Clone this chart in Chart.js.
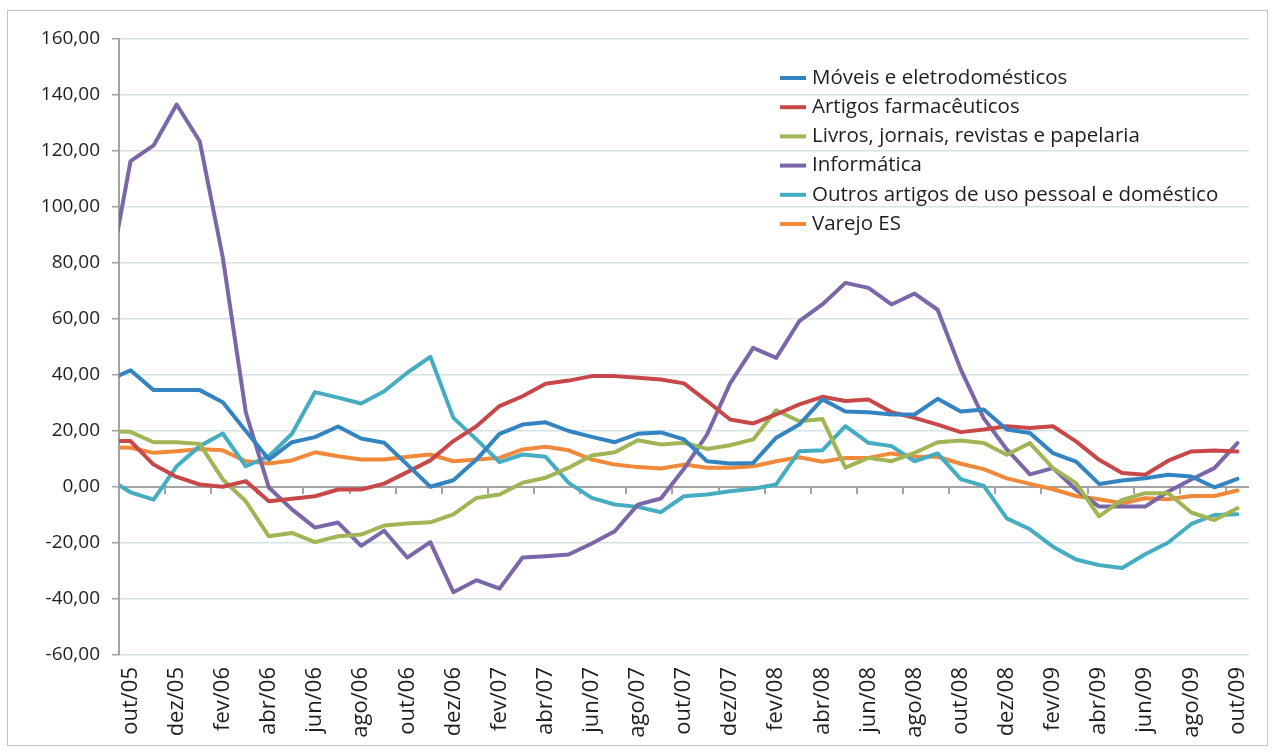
<!DOCTYPE html>
<html>
<head>
<meta charset="utf-8">
<script src="https://cdn.jsdelivr.net/npm/chart.js@4"></script>
<style>
  html, body { margin: 0; padding: 0; background: #fff; }
  #wrap { width: 1276px; height: 753px; position: relative; }
</style>
</head>
<body>
<div id="wrap"><canvas id="chart"></canvas></div>
<script>
// months; "set/05" sits just left of the axis so the line enters clipped, like the original
const months = ['set/05','out/05','nov/05','dez/05','jan/06','fev/06','mar/06','abr/06','mai/06','jun/06','jul/06','ago/06',
  'set/06','out/06','nov/06','dez/06','jan/07','fev/07','mar/07','abr/07','mai/07','jun/07','jul/07','ago/07',
  'set/07','out/07','nov/07','dez/07','jan/08','fev/08','mar/08','abr/08','mai/08','jun/08','jul/08','ago/08',
  'set/08','out/08','nov/08','dez/08','jan/09','fev/09','mar/09','abr/09','mai/09','jun/09','jul/09','ago/09',
  'set/09','out/09'];

const moveis = [37.9, 41.7, 34.6, 34.6, 34.6, 30.3, 20, 9.8, 16, 17.8,
  21.6, 17.3, 15.8, 8, 0.1, 2.4, 9.8, 19, 22.3, 23.1,
  20, 17.9, 16, 19, 19.5, 17, 9.2, 8.4, 8.6, 17.6,
  22.3, 31.3, 27, 26.7, 25.9, 25.9, 31.5, 27, 27.7, 20.5,
  19.3, 12.1, 9.1, 1.1, 2.3, 3.1, 4.4, 3.75, -0.1, 2.9];
const farma = [16.4, 16.4, 8, 3.6, 0.9, 0.1, 2.1, -5.1, -4.2, -3.3,
  -0.9, -0.9, 1.2, 5.3, 9.5, 16.4, 21.7, 28.9, 32.4, 36.9,
  38, 39.6, 39.6, 39, 38.4, 37, 30.7, 24.1, 22.7, 25.9,
  29.5, 32.2, 30.7, 31.25, 26.7, 24.7, 22.3, 19.6, 20.5, 21.7,
  21.1, 21.7, 16.3, 9.7, 5, 4.4, 9.4, 12.7, 13, 12.7];
const livros = [20, 19.7, 16, 16, 15.4, 2.7, -5.1, -17.6, -16.4, -19.7,
  -17.6, -17, -13.75, -13, -12.6, -9.8, -3.9, -2.7, 1.5, 3.3,
  6.9, 11.25, 12.4, 16.7, 15.2, 15.8, 13.6, 14.9, 17, 27.4,
  23.5, 24.3, 6.9, 10.4, 9.2, 12.2, 16, 16.6, 15.7, 11.5,
  15.7, 6.75, 1.4, -10.5, -4.6, -2.2, -2.2, -9.1, -11.8, -7.6];
const informatica = [71.7, 116.4, 122, 136.6, 123.5, 82, 26.6, -0.2, -8, -14.5,
  -12.7, -21, -15.6, -25.2, -19.7, -37.6, -33.3, -36.3, -25.2, -24.7,
  -24.1, -20.2, -15.8, -6.3, -4.1, 6.5, 18.75, 37, 49.7, 46.1,
  59.2, 65.2, 72.9, 71.1, 65.2, 69.1, 63.3, 42, 24.5, 13.4,
  4.5, 6.75, -0.9, -7, -7, -7, -1.6, 2.7, 6.75, 15.7];
const outros = [3.2, -1.9, -4.5, 7.4, 14.6, 19.1, 7.4, 11, 19, 33.9,
  31.9, 29.8, 34.2, 40.8, 46.5, 24.7, 17, 8.9, 11.6, 10.8,
  1.5, -3.9, -6.25, -7.1, -9, -3.3, -2.7, -1.5, -0.6, 0.9,
  12.8, 13.1, 21.7, 15.8, 14.6, 9.2, 12, 2.8, 0.4, -11.2,
  -15.1, -21.3, -25.9, -27.9, -28.9, -24, -19.8, -13.2, -10, -9.75];
const varejo = [14.2, 14, 12.2, 12.8, 13.6, 13.1, 9.2, 8.4, 9.5, 12.4,
  11, 9.8, 9.8, 10.8, 11.6, 9.2, 9.8, 10.4, 13.4, 14.4,
  13.1, 9.8, 8, 7.1, 6.6, 8, 6.85, 6.85, 7.4, 9.2,
  10.6, 9, 10.4, 10.4, 12, 10.8, 10.8, 8.3, 6.4, 3.1,
  1.1, -0.8, -3.2, -4.4, -5.8, -4, -4.4, -3.2, -3.2, -1.25];

const seriesNames = ['Móveis e eletrodomésticos', 'Artigos farmacêuticos', 'Livros, jornais, revistas e papelaria',
  'Informática', 'Outros artigos de uso pessoal e doméstico', 'Varejo ES'];
const seriesData = [moveis, farma, livros, informatica, outros, varejo];
const seriesColors = ['#3484c2', '#c8484a', '#a0b553', '#7a66a8', '#45adc2', '#f08a3a'];

const FONT = '"Open Sans", sans-serif';
const TEXT = '#1e1e1e';
const AXIS = '#a3a3a3';
const GRID = '#d3e3e3';

// zero axis line with tick marks every two months, under the series
const zeroAxis = {
  id: 'zeroAxis',
  beforeDatasetsDraw(chart) {
    const { ctx, chartArea: a, scales } = chart;
    const y0 = scales.y.getPixelForValue(0);
    const n = scales.x.max - scales.x.min + 1;
    const cw = (a.right - a.left) / n;
    ctx.save();
    ctx.strokeStyle = AXIS;
    ctx.lineWidth = 2;
    ctx.beginPath();
    ctx.moveTo(a.left, y0);
    ctx.lineTo(a.right, y0);
    for (let k = 2; k < n; k += 2) {
      const x = Math.round(a.left + k * cw);
      ctx.moveTo(x, y0);
      ctx.lineTo(x, y0 + 7);
    }
    ctx.stroke();
    ctx.restore();
  }
};

const frameAndLegend = {
  id: 'frameAndLegend',
  afterDraw(chart) {
    const { ctx } = chart;
    ctx.save();
    ctx.strokeStyle = '#c4c4c4';
    ctx.lineWidth = 1;
    ctx.strokeRect(7.5, 10.5, 1260, 735);

    ctx.font = '20.5px ' + FONT;
    ctx.textBaseline = 'middle';
    ctx.fillStyle = TEXT;
    chart.data.datasets.forEach((ds, i) => {
      const y = 78 + i * 29.2;
      ctx.strokeStyle = ds.borderColor;
      ctx.lineWidth = 4;
      ctx.beginPath();
      ctx.moveTo(780, y);
      ctx.lineTo(806, y);
      ctx.stroke();
      ctx.fillText(ds.label, 812, y);
    });
    ctx.restore();
  }
};

new Chart(document.getElementById('chart'), {
  type: 'line',
  data: {
    labels: months,
    datasets: seriesNames.map((name, i) => ({
      label: name,
      data: seriesData[i],
      borderColor: seriesColors[i],
      backgroundColor: seriesColors[i],
      borderWidth: 4,
      pointRadius: 0,
      tension: 0,
      borderJoinStyle: 'round',
      borderCapStyle: 'round'
    }))
  },
  options: {
    responsive: true,
    maintainAspectRatio: false,
    animation: false,
    layout: { padding: { top: 39, right: 17, left: 0, bottom: 0 } },
    plugins: { legend: { display: false }, tooltip: { enabled: false } },
    scales: {
      x: {
        type: 'category',
        min: 'out/05',
        offset: true,
        grid: { display: false, drawTicks: false },
        border: { display: false },
        afterFit: (s) => { s.height = 98; },
        ticks: {
          autoSkip: false,
          minRotation: 90,
          maxRotation: 90,
          padding: 12,
          color: TEXT,
          font: { family: FONT, size: 22 },
          callback: function (val) { return val % 2 === 1 ? this.getLabelForValue(val) : ''; }
        }
      },
      y: {
        min: -60,
        max: 160,
        afterFit: (s) => { s.width = 119; },
        grid: {
          color: (c) => c.tick && c.tick.value === 0 ? 'rgba(0,0,0,0)' : GRID,
          lineWidth: 1.5,
          tickColor: AXIS,
          tickLength: 7
        },
        border: { color: AXIS, width: 2 },
        ticks: {
          stepSize: 20,
          padding: 12,
          color: TEXT,
          font: { family: FONT, size: 19 },
          callback: (v) => v.toFixed(2).replace('.', ',')
        }
      }
    }
  },
  plugins: [zeroAxis, frameAndLegend]
});
</script>
</body>
</html>
